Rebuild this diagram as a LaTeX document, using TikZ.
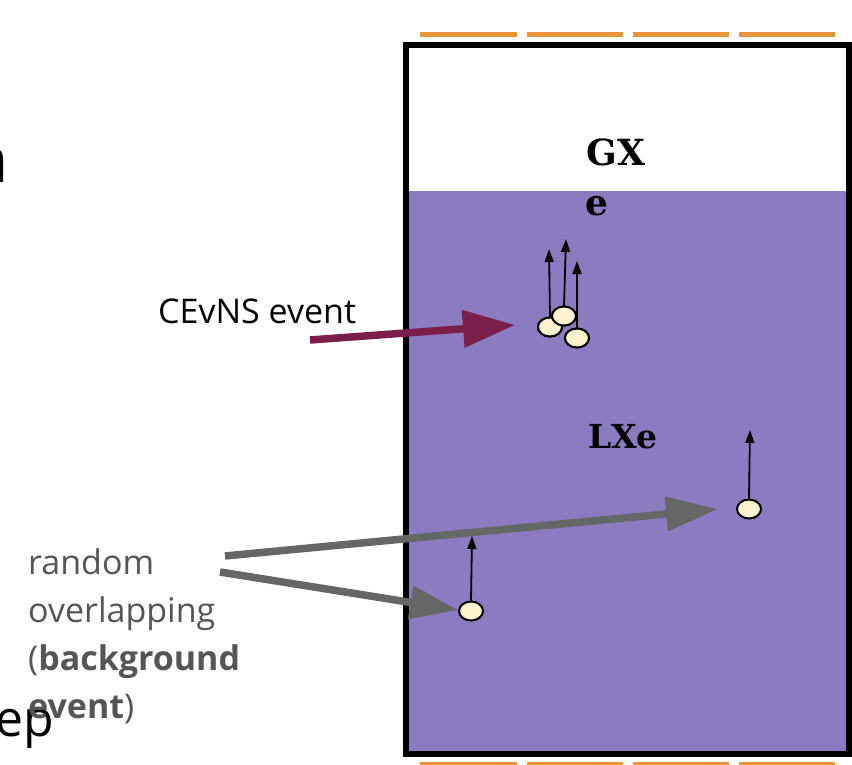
\documentclass[tikz,border=0pt]{standalone}
\usepackage{fontspec}
\setmainfont{Open Sans}
\newfontfamily\slabfont{DejaVu Serif}
\usetikzlibrary{arrows.meta,shapes.geometric}
\definecolor{lxe}{RGB}{139,123,192}
\definecolor{pmt}{RGB}{232,148,58}
\definecolor{maroon}{RGB}{122,30,74}
\definecolor{bggray}{RGB}{102,102,102}
\definecolor{txtgray}{RGB}{85,85,85}
\definecolor{cream}{RGB}{253,243,207}
\tikzset{
  particle/.style={ellipse,draw=black,line width=2pt,fill=cream,minimum width=24pt,minimum height=19pt,inner sep=0pt},
  recoil/.style={line width=1.8pt,-{Triangle[length=13pt,width=9pt]}},
  pmtbar/.style={pmt,line width=5pt},
  bigarrow/.style={line width=7.5pt,-{Triangle[length=52pt,width=36pt]}},
}
\begin{document}
\begin{tikzpicture}[x=1pt,y=-1pt]
\useasboundingbox (0,0) rectangle (852,764);
% PMT bars
\foreach \a/\b in {420/517,527/623,633/729,739/835}{
  \draw[pmtbar] (\a,34.5) -- (\b,34.5);
  \draw[pmtbar] (\a,764) -- (\b,764);
}
% detector
\fill[lxe] (406,191) rectangle (849,754);
\draw[line width=6pt] (406,45) rectangle (849,754);
% slide fragments
\node[anchor=base east,font=\fontsize{64}{70}\selectfont,inner sep=0pt] (frag1) at (9,182) {n};
\node[anchor=base west,font=\fontsize{50}{56}\selectfont,inner sep=0pt] (frag2) at (-5,736) {ep};
% labels
\node[font=\slabfont\bfseries\fontsize{36}{40}\selectfont,anchor=base,inner sep=0pt] (gx) at (616,165) {GX};
\node[font=\slabfont\bfseries\fontsize{36}{40}\selectfont,anchor=base,inner sep=0pt] (ge) at (597,215) {e};
\node[font=\slabfont\bfseries\fontsize{33}{38}\selectfont,anchor=base,inner sep=0pt] (lxe) at (623,448) {LXe};
\node[font=\fontsize{34}{40}\selectfont,anchor=base west,inner sep=0pt] (cevns) at (158,323) {CEvNS event};
\node[font=\fontsize{34}{48}\selectfont,anchor=north west,align=left,inner sep=0pt,text=txtgray] (bg) at (28,548)
  {random\\overlapping\\(\textbf{background}\\\textbf{event})};
% particles
\node[particle] (p1) at (550,327) {};
\node[particle] (p2) at (564,316) {};
\node[particle] (p3) at (577,338) {};
\node[particle] (p4) at (749,509) {};
\node[particle] (p5) at (471,611) {};
\coordinate (t1) at (549,249);
\coordinate (t2) at (566,239);
\coordinate (t3) at (577,261);
\coordinate (t4) at (750,430);
\coordinate (t5) at (472,536);
\draw[recoil] (p3.north) -- (t3);
\draw[recoil] (p1.north) -- (t1);
\draw[recoil] (p2.north) -- (t2);
\node[particle] at (550,327) {};
\node[particle] at (564,316) {};
\node[particle] at (577,338) {};
\draw[recoil] (p4.north) -- (t4);
\draw[recoil] (p5.north) -- (t5);
% event arrows
\coordinate (cs) at (310,340);
\coordinate (ce) at (515,325);
\draw[bigarrow,maroon] (cs) -- (ce);
\coordinate (g1s) at (225,556);
\coordinate (g1e) at (718,509);
\coordinate (g2s) at (220,572);
\coordinate (g2e) at (458,610);
\draw[bigarrow,bggray,-{Triangle[length=52pt,width=33pt]}] (g1s) -- (g1e);
\draw[bigarrow,bggray,-{Triangle[length=48pt,width=32pt]}] (g2s) -- (g2e);
\end{tikzpicture}
\end{document}
